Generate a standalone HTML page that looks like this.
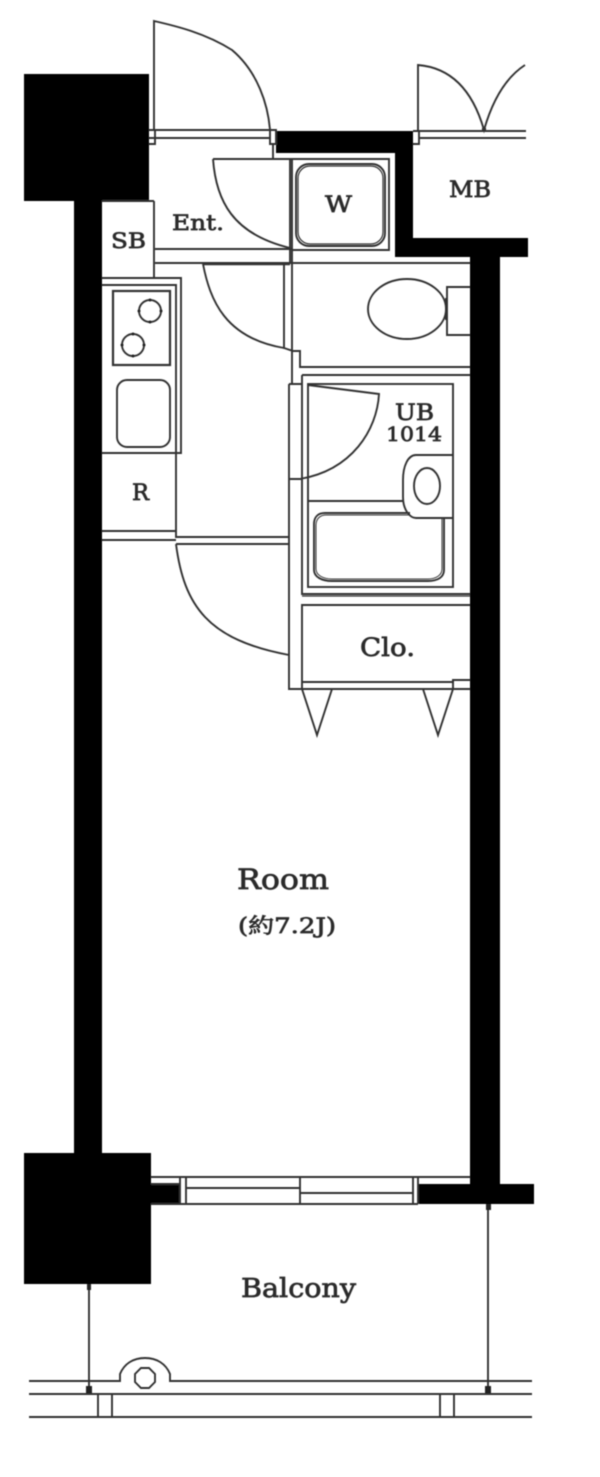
<!DOCTYPE html>
<html>
<head>
<meta charset="utf-8">
<style>
html,body{margin:0;padding:0;background:#fff;width:600px;height:1477px;overflow:hidden}
svg{display:block}
.l{fill:none;stroke:#333;stroke-width:1.9}
.t{fill:#2a2a2a;stroke:#2a2a2a;stroke-width:.7;font-family:"DejaVu Serif","Liberation Serif","Noto Serif CJK SC",serif}
</style>
</head>
<body>
<svg width="600" height="1477" viewBox="0 0 600 1477" xmlns="http://www.w3.org/2000/svg">
<defs><filter id="b" x="-5%" y="-5%" width="110%" height="110%"><feGaussianBlur stdDeviation="0.45"/></filter></defs>
<g filter="url(#b)">
<!-- black walls -->
<g fill="#000">
<rect x="24" y="74" width="125" height="127"/>
<rect x="74" y="201" width="28" height="952"/>
<rect x="24" y="1153" width="127" height="131"/>
<rect x="151" y="1184" width="29" height="20"/>
<rect x="418" y="1184" width="116" height="20"/>
<rect x="470" y="257" width="30" height="927"/>
<rect x="276" y="131" width="137" height="22"/>
<rect x="395" y="131" width="18" height="126"/>
<rect x="395" y="238" width="133" height="19"/>
</g>
<g class="l">
<!-- entrance door -->
<path d="M154 130V21C176 26 205 33 232 50C258 72 268 105 270 130"/>
<path d="M149 130H270M149 138H270"/>
<path d="M149 130H155V144H149M270 130H276V144H270Z"/>
<path d="M273 144V159M213 159H292"/>
<path d="M213 159C216 200 232 234 290 248"/>
<path d="M154 201V277M102 201H154"/>
<path d="M155 249H292M155 263H292"/>
<path d="M203 264H290" stroke-width="2.4"/>
<!-- MB door -->
<path d="M418 131V65C455 68 474 95 484 130C492 102 505 78 525 65"/>
<path d="M419 131H526M419 138H526"/>
<path d="M413 131H419V144H413"/>
<circle cx="484" cy="129" r="1.2"/>
<!-- W -->
<path d="M292 159H389V250H292M290 159V263M292 159V384"/>
<rect x="296" y="164" width="89" height="82" rx="13"/>
<rect x="298" y="166" width="85" height="78" rx="12" stroke-width="1.2"/>
<path d="M292 263H470"/>
<!-- toilet -->
<ellipse cx="407" cy="309" rx="39" ry="30"/>
<path d="M470 287H447V335H470"/>
<path d="M446 298V320" stroke-width="2"/>
<path d="M284 264V348L293 351H300V367H470"/>
<!-- kitchen door -->
<path d="M203 264C210 300 225 338 284 348"/>
<!-- kitchen -->
<path d="M102 278H181V453H102M102 285H176V453M176 453V538M102 531H176M102 540H176"/>
<rect x="113" y="291" width="57" height="74" stroke-width="2.2"/>
<circle cx="150" cy="311" r="11"/>
<circle cx="133" cy="345" r="11"/>
<rect x="117" y="380" width="53" height="67" rx="10"/>
<!-- room door -->
<path d="M176 537H289M176 544H289"/>
<path d="M176 544C184 606 208 640 289 655"/>
<!-- hall -->
<path d="M289 384V689H470M289 384H302M289 479H302"/>
<!-- UB -->
<path d="M302 689V605H470M302 375H470M302 375V594H470"/>
<path d="M302 596H470" stroke-width="1.2"/>
<rect x="308" y="384" width="145" height="203"/>
<path d="M308 385L379 394C377 430 352 470 300 479"/>
<path d="M453 455H416C408 455 403 466 403 480V497C403 510 410 518 416 518H453"/>
<ellipse cx="427" cy="486" rx="13" ry="18"/>
<path d="M308 501H404"/>
<path d="M410 513H325C318 513 314 517 314 524V570C314 577 322 581 332 581H428C438 581 444 577 444 570V518"/>
<path d="M410 515H326C320 515 316 519 316 525V569C316 575 323 579 332 579H428C436 579 442 575 442 569V518" stroke-width="1"/>
<!-- Clo -->
<path d="M302 682H453V680H470"/>
<path d="M453 680V689"/>
<path d="M302 689L317 735L332 689M423 689L438 735L453 689"/>
<!-- window -->
<path d="M151 1177H470M151 1204H418"/>
<path d="M151 1184H180"/>
<path d="M180 1177V1204M186 1177V1204M300 1177V1204M413 1177V1204M418 1177V1204"/>
<path d="M186 1188H300M300 1193H413"/>
<!-- balcony -->
<path d="M89 1284V1390M488 1204V1390"/>
<path d="M29 1381H120V1374C124 1364 133 1358 145 1358C157 1358 166 1364 170 1374V1381H532"/>
<path d="M29 1394H532M29 1417H532"/>
<path d="M98 1394V1417M112 1394V1417M440 1394V1417M454 1394V1417"/>
<polygon points="141,1368 149,1368 155,1374 155,1382 149,1388 141,1388 135,1382 135,1374"/>
</g>
<g fill="#222">
<rect x="86" y="1386" width="6" height="7"/>
<rect x="485" y="1386" width="6" height="7"/>
<rect x="486" y="1204" width="5" height="6"/>
<rect x="87" y="1284" width="4" height="6"/>
<circle cx="150" cy="300" r="1.5"/><circle cx="150" cy="322" r="1.5"/><circle cx="139" cy="311" r="1.5"/><circle cx="161" cy="311" r="1.5"/>
<circle cx="133" cy="334" r="1.5"/><circle cx="133" cy="356" r="1.5"/><circle cx="122" cy="345" r="1.5"/><circle cx="144" cy="345" r="1.5"/>
</g>
<!-- labels -->
<g class="t">
<text x="172" y="230" font-size="21" textLength="52" lengthAdjust="spacingAndGlyphs">Ent.</text>
<text x="111" y="248" font-size="21" textLength="35" lengthAdjust="spacingAndGlyphs">SB</text>
<text x="325" y="212" font-size="22" textLength="27" lengthAdjust="spacingAndGlyphs">W</text>
<text x="449" y="197" font-size="22" textLength="42" lengthAdjust="spacingAndGlyphs">MB</text>
<text x="132" y="500" font-size="22" textLength="17" lengthAdjust="spacingAndGlyphs">R</text>
<text x="395" y="420" font-size="22" textLength="39" lengthAdjust="spacingAndGlyphs">UB</text>
<text x="386" y="441" font-size="20" textLength="56" lengthAdjust="spacingAndGlyphs">1014</text>
<text x="360" y="656" font-size="25" textLength="55" lengthAdjust="spacingAndGlyphs">Clo.</text>
<text x="237" y="889" font-size="28" textLength="92" lengthAdjust="spacingAndGlyphs">Room</text>
<text x="238" y="933" font-size="21" textLength="98" lengthAdjust="spacingAndGlyphs">(約7.2J)</text>
<text x="241" y="1297" font-size="26" textLength="115" lengthAdjust="spacingAndGlyphs">Balcony</text>
</g>
</g>
</svg>
</body>
</html>
